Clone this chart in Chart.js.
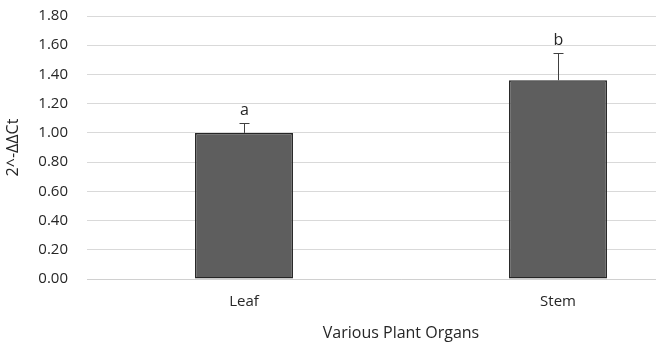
<!DOCTYPE html>
<html>
<head>
<meta charset="utf-8">
<script src="https://cdn.jsdelivr.net/npm/chart.js@4/dist/chart.umd.min.js"></script>
<style>
    html, body { margin: 0; padding: 0; background: #fff; overflow: hidden; width: 656px; height: 347px; }
    canvas { display: block; }
</style>
</head>
<body>
<canvas id="chart" width="720" height="347"></canvas>
<script>
    // values
    var organs = ['Leaf', 'Stem'];
    var expression = [1.00, 1.36];
    var errorUp = [0.07, 0.19];
    var letters = ['a', 'b'];

    var FONT = "'Open Sans', sans-serif";
    var TEXT = '#262626';

    // draws the error whiskers and the significance letters over the bars
    var errorBars = {
        id: 'errorBars',
        afterDatasetsDraw: function (chart) {
            var ctx = chart.ctx;
            var x = chart.scales.x;
            var y = chart.scales.y;
            ctx.save();
            ctx.strokeStyle = '#404040';
            ctx.lineWidth = 1;
            for (var i = 0; i < expression.length; i++) {
                var cx = Math.round(x.getPixelForValue(i)) + 0.5;
                var top = y.getPixelForValue(expression[i]);
                var hi = Math.round(y.getPixelForValue(expression[i] + errorUp[i])) + 0.5;
                ctx.beginPath();
                ctx.moveTo(cx, top);
                ctx.lineTo(cx, hi);
                ctx.moveTo(cx - 5, hi);
                ctx.lineTo(cx + 5, hi);
                ctx.stroke();

                ctx.fillStyle = TEXT;
                ctx.font = "16px " + FONT;
                ctx.textAlign = 'center';
                ctx.textBaseline = 'bottom';
                ctx.fillText(letters[i], cx, hi - 5);
            }
            ctx.restore();
        }
    };

    new Chart(document.getElementById('chart').getContext('2d'), {
        type: 'bar',
        data: {
            labels: organs,
            datasets: [{
                data: expression,
                backgroundColor: '#5e5e5e',
                borderColor: '#262626',
                borderWidth: 1.5,
                borderSkipped: false,
                categoryPercentage: 1,
                barPercentage: 0.312
            }]
        },
        options: {
            responsive: false,
            animation: false,
            layout: { padding: { top: 16, right: 5, left: 0, bottom: 0 } },
            plugins: {
                legend: { display: false },
                tooltip: { enabled: false }
            },
            scales: {
                x: {
                    grid: { display: false, drawTicks: false },
                    border: { color: '#d0d0d0', width: 1 },
                    ticks: { color: TEXT, font: { family: FONT, size: 15 }, padding: 14 },
                    title: {
                        display: true,
                        text: 'Various Plant Organs',
                        color: TEXT,
                        font: { family: FONT, size: 16 },
                        padding: { top: 4, bottom: 4 }
                    },
                    afterFit: function (scale) { scale.height = 68; }
                },
                y: {
                    min: 0,
                    max: 1.8,
                    grid: { color: '#d9d9d9', drawTicks: false },
                    border: { display: false },
                    ticks: {
                        stepSize: 0.2,
                        color: TEXT,
                        font: { family: FONT, size: 15 },
                        padding: 19,
                        callback: function (v) { return v.toFixed(2); }
                    },
                    title: {
                        display: true,
                        text: '2^-ΔΔCt',
                        color: TEXT,
                        font: { family: FONT, size: 16 },
                        padding: { top: 4, bottom: 0 }
                    },
                    afterFit: function (scale) {
                        scale.width = 87;
                        scale.paddingTop = 0;
                        scale.paddingBottom = 0;
                    }
                }
            }
        },
        plugins: [errorBars]
    });
</script>
</body>
</html>
